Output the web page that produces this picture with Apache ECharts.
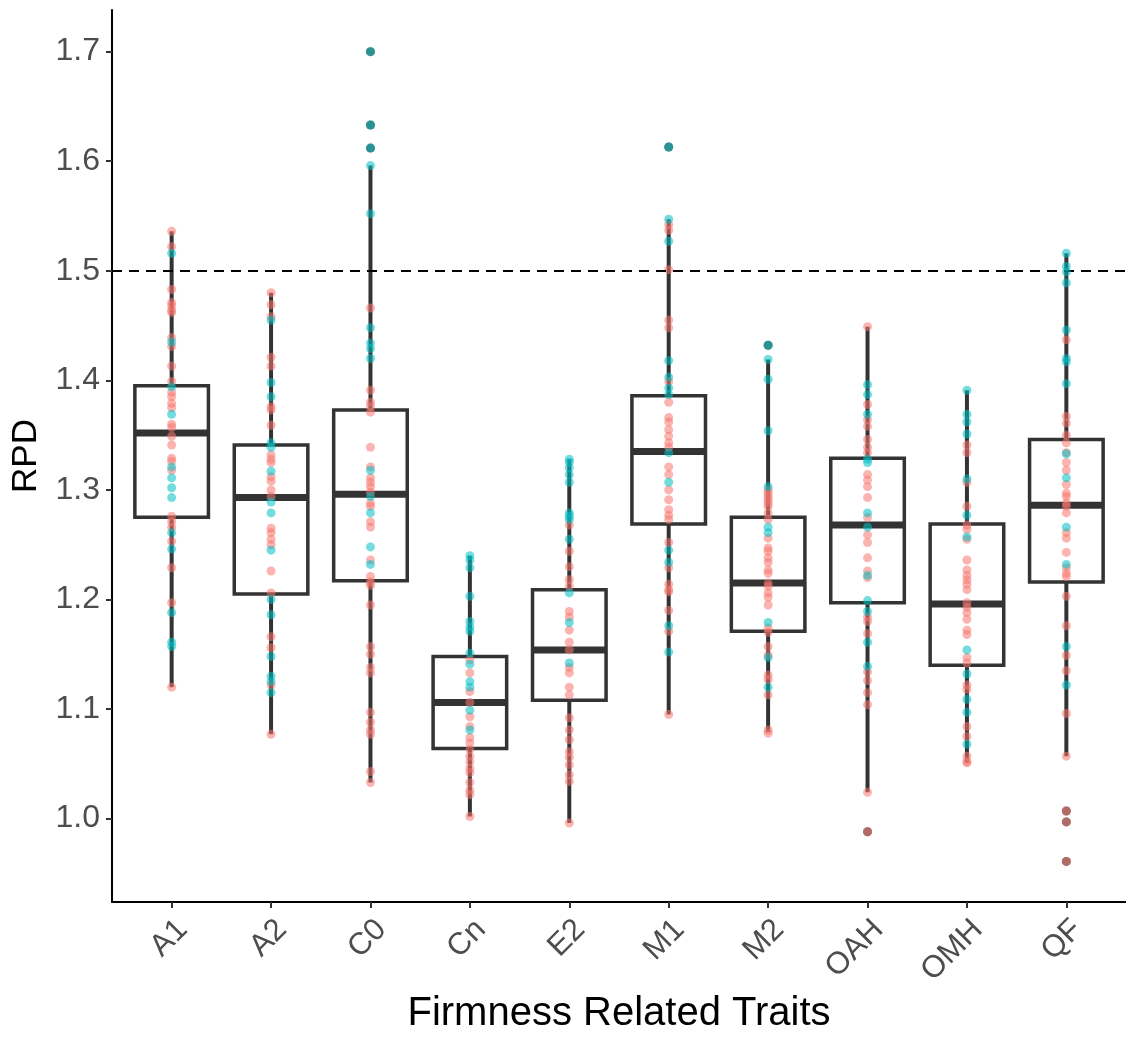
<!DOCTYPE html>
<html lang="en">
<head>
	<meta charset="UTF-8">
	<title>RPD boxplot</title>
	<script src="https://cdn.jsdelivr.net/npm/echarts@6/dist/echarts.min.js"></script>
	<style>
		html,body{height:100%;margin:0;background:#fff;}
	</style>
</head>
<body>
	<div id="chart" style="width:1126px; height:1039px;"></div>
	<script>
	// categories
	var traits = ['A1','A2','C0','Cn','E2','M1','M2','OAH','OMH','QF'];

	// box stats (lower whisker, q1, median, q3, upper whisker)
	var boxLow  = [1.120, 1.077, 1.033, 1.002, 0.996, 1.095, 1.079, 1.024, 1.051, 1.057];
	var boxQ1   = [1.275, 1.205, 1.217, 1.064, 1.108, 1.269, 1.171, 1.197, 1.140, 1.216];
	var boxMed  = [1.352, 1.293, 1.296, 1.106, 1.154, 1.335, 1.215, 1.268, 1.196, 1.286];
	var boxQ3   = [1.395, 1.341, 1.373, 1.148, 1.209, 1.386, 1.275, 1.329, 1.269, 1.346];
	var boxHigh = [1.536, 1.480, 1.596, 1.240, 1.328, 1.547, 1.419, 1.449, 1.391, 1.516];

	// outliers [trait index, value]
	var outliers = [[2,1.700],[2,1.633],[2,1.612],[5,1.613],[6,1.432],[7,0.988],[9,1.007],[9,0.997],[9,0.961]];

	// individual points, salmon group
	var salmonA1  = [1.536,1.522,1.483,1.471,1.468,1.464,1.462,1.439,1.431,1.413,1.399,1.389,1.385,1.379,1.375,1.360,1.357,1.349,1.341,1.329,1.326,1.318,1.276,1.271,1.266,1.253,1.229,1.197,1.120];
	var salmonA2  = [1.480,1.469,1.458,1.421,1.413,1.376,1.373,1.359,1.332,1.328,1.325,1.312,1.308,1.300,1.294,1.265,1.261,1.255,1.250,1.226,1.206,1.166,1.156,1.122,1.077];
	var salmonC0  = [1.466,1.391,1.380,1.376,1.371,1.339,1.321,1.311,1.307,1.303,1.298,1.288,1.285,1.271,1.266,1.236,1.221,1.216,1.213,1.195,1.157,1.150,1.138,1.133,1.097,1.088,1.081,1.077,1.043,1.033];
	var salmonCn  = [1.145,1.133,1.116,1.106,1.093,1.084,1.074,1.069,1.063,1.057,1.052,1.046,1.042,1.033,1.026,1.022,1.002];
	var salmonE2  = [1.268,1.244,1.230,1.218,1.212,1.189,1.184,1.172,1.161,1.154,1.138,1.133,1.120,1.113,1.092,1.081,1.072,1.061,1.056,1.049,1.040,1.034,0.996];
	var salmonM1  = [1.542,1.537,1.501,1.455,1.448,1.399,1.380,1.366,1.362,1.355,1.349,1.343,1.339,1.321,1.314,1.300,1.291,1.282,1.277,1.273,1.252,1.229,1.214,1.209,1.207,1.190,1.171,1.095];
	var salmonM2  = [1.300,1.297,1.294,1.291,1.288,1.285,1.279,1.273,1.256,1.247,1.244,1.238,1.234,1.227,1.224,1.215,1.212,1.206,1.202,1.195,1.174,1.170,1.157,1.149,1.131,1.127,1.113,1.081,1.078];
	var salmonOAH = [1.449,1.378,1.364,1.358,1.346,1.339,1.334,1.314,1.309,1.303,1.293,1.275,1.259,1.252,1.238,1.226,1.220,1.184,1.180,1.169,1.134,1.126,1.115,1.104,1.024,0.988];
	var salmonOMH = [1.341,1.334,1.307,1.285,1.268,1.264,1.255,1.236,1.227,1.222,1.218,1.214,1.209,1.197,1.193,1.188,1.182,1.172,1.168,1.147,1.142,1.122,1.118,1.084,1.075,1.057,1.052,1.051];
	var salmonQF  = [1.437,1.367,1.361,1.350,1.343,1.334,1.325,1.318,1.305,1.297,1.294,1.288,1.285,1.279,1.261,1.256,1.243,1.229,1.224,1.221,1.203,1.176,1.149,1.135,1.096,1.057,1.007,0.997,0.961];

	// individual points, cyan group
	var cyanA1  = [1.516,1.435,1.394,1.369,1.321,1.311,1.302,1.293,1.261,1.246,1.188,1.161,1.157];
	var cyanA2  = [1.455,1.398,1.385,1.343,1.339,1.317,1.289,1.279,1.245,1.200,1.186,1.148,1.130,1.125,1.115];
	var cyanC0  = [1.700,1.633,1.612,1.596,1.552,1.448,1.434,1.429,1.420,1.318,1.294,1.279,1.248,1.232];
	var cyanCn  = [1.240,1.236,1.229,1.203,1.180,1.175,1.171,1.151,1.141,1.125,1.120,1.099,1.081];
	var cyanE2  = [1.328,1.325,1.320,1.314,1.307,1.279,1.276,1.273,1.255,1.206,1.179,1.142];
	var cyanM1  = [1.613,1.547,1.527,1.418,1.403,1.393,1.387,1.334,1.307,1.245,1.234,1.176,1.152];
	var cyanM2  = [1.432,1.419,1.401,1.354,1.303,1.266,1.261,1.179,1.147,1.120];
	var cyanOAH = [1.396,1.387,1.369,1.328,1.325,1.279,1.266,1.222,1.199,1.189,1.161,1.139];
	var cyanOMH = [1.391,1.369,1.362,1.351,1.310,1.277,1.257,1.154,1.132,1.109,1.097,1.068];
	var cyanQF  = [1.516,1.504,1.499,1.489,1.446,1.420,1.417,1.397,1.333,1.311,1.266,1.232,1.157,1.122];

	var yTicks = [1.0,1.1,1.2,1.3,1.4,1.5,1.6,1.7];
	var xTicks = [0,1,2,3,4,5,6,7,8,9];

	var salmonAll = [salmonA1,salmonA2,salmonC0,salmonCn,salmonE2,salmonM1,salmonM2,salmonOAH,salmonOMH,salmonQF];
	var cyanAll = [cyanA1,cyanA2,cyanC0,cyanCn,cyanE2,cyanM1,cyanM2,cyanOAH,cyanOMH,cyanQF];

	function toPoints(groups){
		var out=[];
		for (var i = 0; i < groups.length; i++) {
			for (var j = 0; j < groups[i].length; j++) {
				out.push([i, groups[i][j]]);
			}
		}
		return out;
	}

	var boxData=[];
	for (var i = 0; i < traits.length; i++) {
		boxData.push([i, boxLow[i], boxQ1[i], boxMed[i], boxQ3[i], boxHigh[i]]);
	}

	var fontFam = '"Liberation Sans", Arial, sans-serif';

	// box + whiskers drawn through the axis scales
	function renderBox(params, api){
		var x = api.value(0);
		var pLow = api.coord([x, api.value(1)]);
		var pQ1 = api.coord([x, api.value(2)]);
		var pMed = api.coord([x, api.value(3)]);
		var pQ3 = api.coord([x, api.value(4)]);
		var pHigh = api.coord([x, api.value(5)]);
		var halfW = api.size([0.74, 0])[0] / 2;
		var cx = pMed[0];
		var stroke = '#333333';
		return {
			type: 'group',
			children: [
				{ type:'line', shape:{x1:cx,y1:pHigh[1],x2:cx,y2:pQ3[1]}, style:{stroke:stroke,lineWidth:4} },
				{ type:'line', shape:{x1:cx,y1:pQ1[1],x2:cx,y2:pLow[1]}, style:{stroke:stroke,lineWidth:4} },
				{ type:'rect', shape:{x:cx-halfW,y:pQ3[1],width:halfW*2,height:pQ1[1]-pQ3[1]}, style:{stroke:stroke,fill:'none',lineWidth:3.5} },
				{ type:'line', shape:{x1:cx-halfW,y1:pMed[1],x2:cx+halfW,y2:pMed[1]}, style:{stroke:stroke,lineWidth:7} }
			]
		};
	}

	var option = {
		animation: false,
		backgroundColor: '#fff',
		grid: { left:112, right:-4, top:10, bottom:137 },
		xAxis: {
			type: 'value',
			min: -0.6,
			max: 9.6,
			splitLine: {show:false},
			axisLine: { show:true, onZero:false, lineStyle:{color:'#000', width:2} },
			axisTick: { show:true, customValues:xTicks, length:6, lineStyle:{color:'#333', width:2} },
			axisLabel: {
				customValues: xTicks,
				rotate: 45,
				margin: 12,
				verticalAlign: 'top',
				color: '#4d4d4d',
				fontSize: 31,
				fontFamily: fontFam,
				formatter: function(v){ return traits[Math.round(v)]; }
			},
			name: 'Firmness Related Traits',
			nameLocation: 'middle',
			nameGap: 88,
			nameTextStyle: { color:'#000', fontSize:40, fontFamily:fontFam }
		},
		yAxis: {
			type: 'value',
			min: 0.924,
			max: 1.738,
			splitLine: {show:false},
			axisLine: { show:true, onZero:false, lineStyle:{color:'#000', width:2} },
			axisTick: { show:true, customValues:yTicks, length:6, lineStyle:{color:'#333', width:2} },
			axisLabel: {
				customValues: yTicks,
				margin: 12,
				color: '#4d4d4d',
				fontSize: 32,
				fontFamily: fontFam,
				formatter: function(v){ return v.toFixed(1); }
			},
			name: 'RPD',
			nameLocation: 'middle',
			nameGap: 68,
			nameRotate: 90,
			nameTextStyle: { color:'#000', fontSize:35, fontFamily:fontFam }
		},
		series: [
			{
				type: 'custom',
				renderItem: renderBox,
				data: boxData,
				encode: { x:0, y:[1,2,3,4,5] },
				z: 2,
				silent: true,
				markLine: {
					silent: true,
					symbol: ['none','none'],
					label: {show:false},
					lineStyle: { color:'#000', type:[10,7], width:1.8 },
					data: [{ yAxis: 1.5 }]
				}
			},
			{
				type: 'scatter',
				data: outliers,
				symbolSize: 9,
				itemStyle: { color:'#333333' },
				z: 3
			},
			{
				type: 'scatter',
				data: toPoints(salmonAll),
				symbolSize: 9,
				itemStyle: { color:'#F8766D', opacity:0.55 },
				z: 4
			},
			{
				type: 'scatter',
				data: toPoints(cyanAll),
				symbolSize: 9,
				itemStyle: { color:'#00BFC4', opacity:0.55 },
				z: 5
			}
		]
	};

	var myChart = echarts.init(document.getElementById('chart'));
	myChart.setOption(option);
	</script>
</body>
</html>
